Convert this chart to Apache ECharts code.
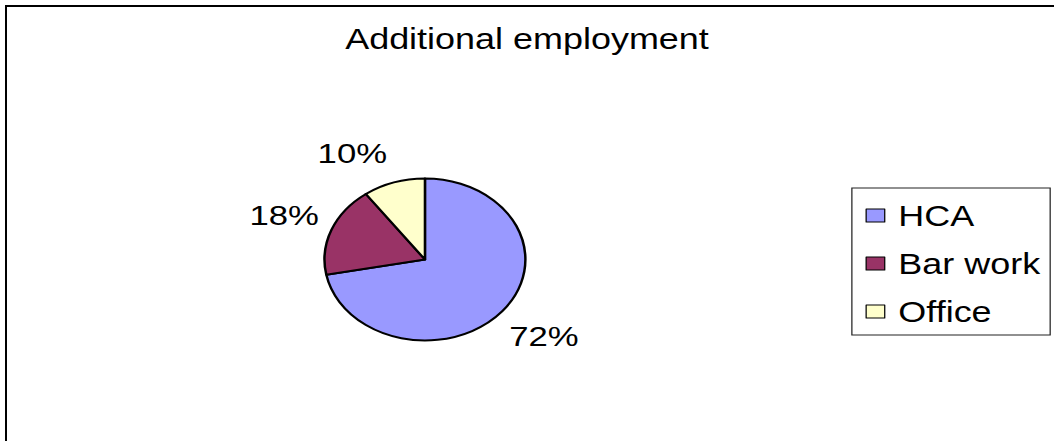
<!DOCTYPE html>
<html>
<head>
<meta charset="utf-8">
<title>Additional employment</title>
<script src="https://cdn.jsdelivr.net/npm/echarts@6/dist/echarts.min.js"></script>
<style>
  html, body { margin: 0; padding: 0; background: #fff; overflow: hidden; }
  body { width: 1054px; height: 441px; position: relative; }
  /* outer chart frame: only the top and left edges fall inside the view */
  #frame {
    position: absolute; left: 5px; top: 5px; width: 1200px; height: 600px;
    border-top: 2px solid #000; border-left: 2px solid #000;
  }
  /* the chart is drawn on a narrower canvas and stretched horizontally */
  #main {
    position: absolute; left: 0; top: 0; width: 850px; height: 441px;
    transform: scaleX(1.24); transform-origin: 0 0;
  }
</style>
</head>
<body>
<div id="frame"></div>
<div id="main"></div>
<script>
// slice names and their shares (%)
const categories = ['HCA', 'Bar work', 'Office'];
const shares = [72, 18, 10];

// slice fill colours, in category order
const palette = ['#9999FF', '#993366', '#FFFFCC'];

const FONT = '"Liberation Sans", Arial, Helvetica, sans-serif';

const chart = echarts.init(document.getElementById('main'), null, { renderer: 'svg' });

const sliceData = categories.map((name, i) => ({ name, value: shares[i] }));

// label-only ring: percentage labels sit centred on this ring around the pie,
// with small per-slice nudges
const labelNudge = {
  'HCA': { padding: [0, 0, 0, 7] },
  'Bar work': { padding: [0, 4, 0, 0] },
  'Office': { padding: [0, 43, 0, 0], formatter: '\n{d}%', lineHeight: 16 }
};
const labelData = categories.map((name, i) => {
  const item = { name, value: shares[i] };
  if (labelNudge[name]) item.label = labelNudge[name];
  return item;
});

chart.setOption({
  animation: false,
  backgroundColor: 'transparent',
  color: palette,
  title: {
    text: 'Additional employment',
    left: 'center',
    top: 24,
    padding: 0,
    textStyle: { fontFamily: FONT, fontSize: 29, fontWeight: 'normal', color: '#000' }
  },
  legend: {
    orient: 'vertical',
    left: 687,
    top: 188,
    padding: [13, 8, 9, 11],
    itemGap: 19,
    itemWidth: 15,
    itemHeight: 13,
    icon: 'rect',
    borderColor: '#222',
    borderWidth: 1,
    data: categories,
    itemStyle: { borderColor: '#000', borderWidth: 1 },
    textStyle: { fontFamily: FONT, fontSize: 29, color: '#000', lineHeight: 28, padding: [0, 0, 0, 6] }
  },
  series: [
    {
      name: 'Additional employment',
      type: 'pie',
      center: [342.7, 259.5],
      radius: 81,
      startAngle: 90,
      clockwise: true,
      silent: true,
      label: { show: false },
      labelLine: { show: false },
      itemStyle: { borderColor: '#000', borderWidth: 2 },
      data: sliceData
    },
    {
      name: 'labels',
      type: 'pie',
      center: [342.7, 259.5],
      radius: [106, 128],
      startAngle: 90,
      clockwise: true,
      silent: true,
      itemStyle: { color: 'rgba(0,0,0,0)', borderWidth: 0 },
      label: {
        show: true,
        position: 'inside',
        rotate: 0,
        formatter: '{d}%',
        fontFamily: FONT,
        fontSize: 28,
        color: '#000'
      },
      labelLine: { show: false },
      emphasis: { disabled: true },
      data: labelData
    }
  ]
});
</script>
</body>
</html>
